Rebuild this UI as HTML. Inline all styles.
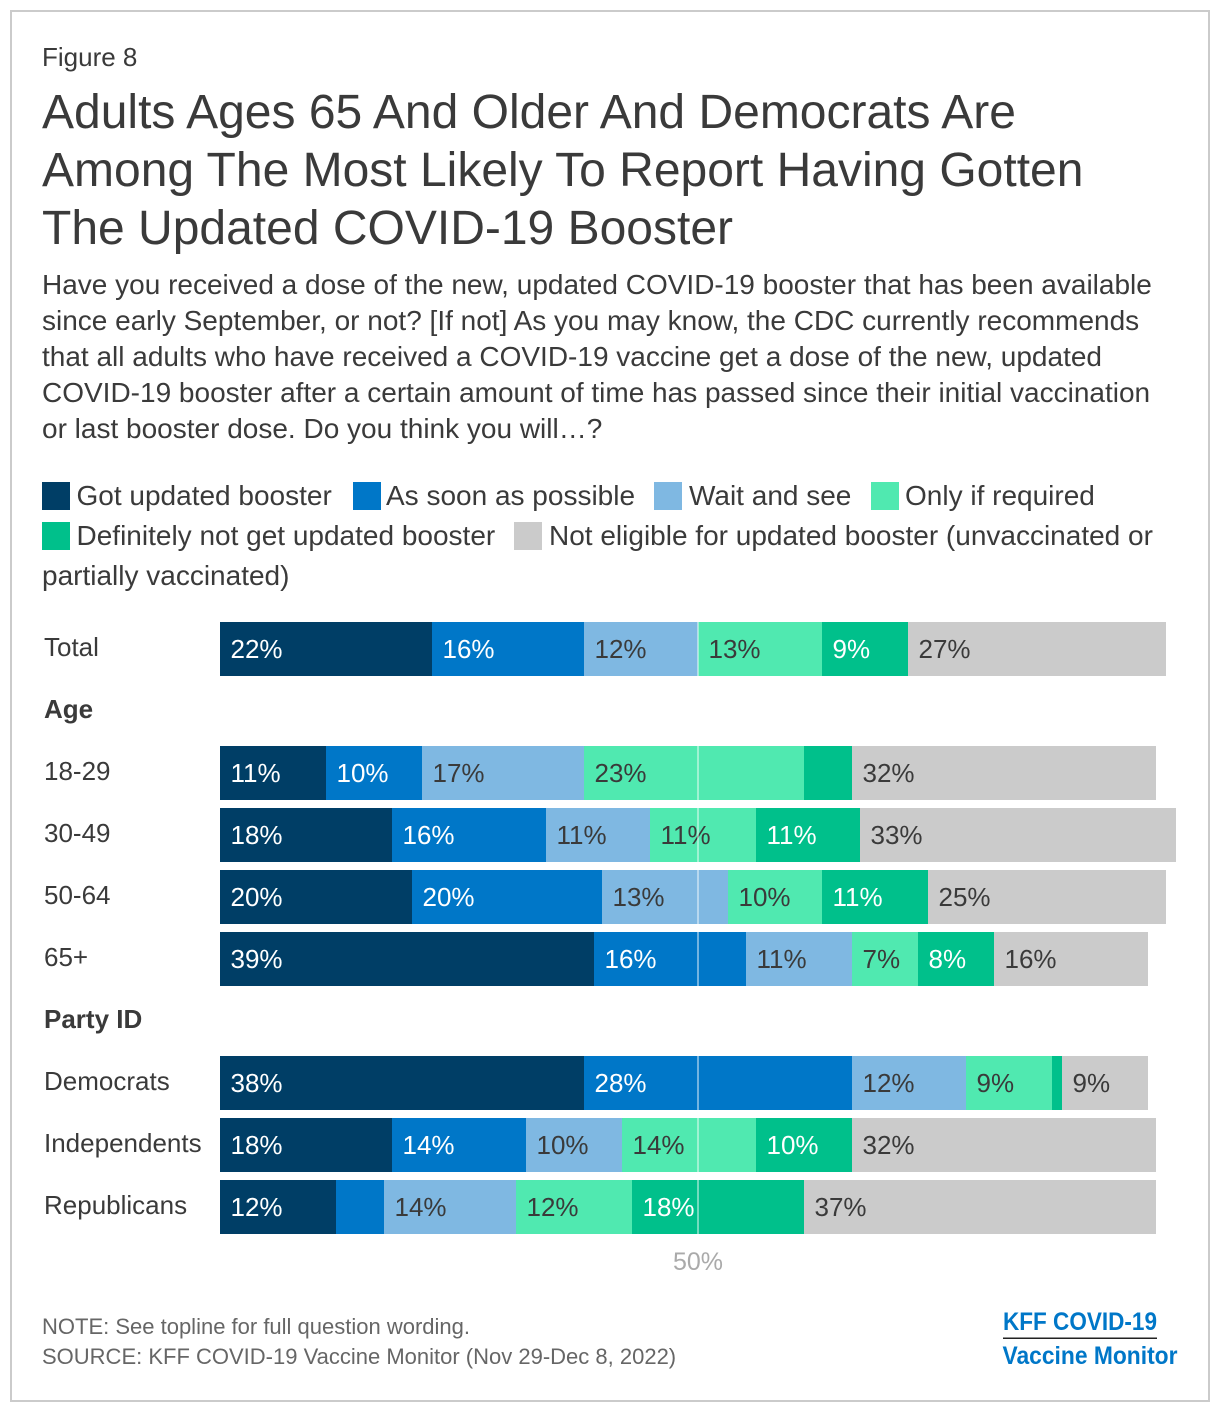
<!DOCTYPE html>
<html lang="en">
<head>
<meta charset="utf-8">
<title>KFF COVID-19 Vaccine Monitor Figure 8</title>
<style>
html,body{margin:0;padding:0;background:#fff;width:1220px;height:1412px;overflow:hidden}
svg{display:block;font-family:"Liberation Sans",Arial,sans-serif}
</style>
</head>
<body>
<svg id="chart" width="1220" height="1412" viewBox="0 0 1220 1412" xmlns="http://www.w3.org/2000/svg">
  <rect x="11" y="11" width="1198" height="1390" fill="#fff" stroke="#cbcbcb" stroke-width="2"/>
  <text x="42" y="66" font-size="26" fill="#3a3a3a">Figure 8</text>
  <g font-size="48" fill="#3a3a3a">
    <text x="42" y="128">Adults Ages 65 And Older And Democrats Are</text>
    <text x="42" y="186">Among The Most Likely To Report Having Gotten</text>
    <text x="42" y="244">The Updated COVID-19 Booster</text>
  </g>
  <g font-size="28" fill="#3a3a3a">
    <text x="42" y="294">Have you received a dose of the new, updated COVID-19 booster that has been available</text>
    <text x="42" y="330">since early September, or not? [If not] As you may know, the CDC currently recommends</text>
    <text x="42" y="366">that all adults who have received a COVID-19 vaccine get a dose of the new, updated</text>
    <text x="42" y="402">COVID-19 booster after a certain amount of time has passed since their initial vaccination</text>
    <text x="42" y="438">or last booster dose. Do you think you will…?</text>
  </g>
  <g id="legend"></g>
  <g id="rows"></g>
  <g id="bars"></g>
  <g id="refline"></g>
  <g font-size="22" fill="#666">
    <text x="42" y="1334">NOTE: See topline for full question wording.</text>
    <text x="42" y="1364">SOURCE: KFF COVID-19 Vaccine Monitor (Nov 29-Dec 8, 2022)</text>
  </g>
  <g fill="#0077c8" font-weight="bold" font-size="25">
    <text x="1003" y="1330" textLength="154" lengthAdjust="spacingAndGlyphs">KFF COVID-19</text>
    <rect x="1003" y="1337.5" width="154" height="1.5" fill="#222"/>
    <text x="1002.5" y="1364" textLength="175" lengthAdjust="spacingAndGlyphs">Vaccine Monitor</text>
  </g>
</svg>
<script>
const seriesNames = ['Got updated booster','As soon as possible','Wait and see','Only if required','Definitely not get updated booster','Not eligible for updated booster (unvaccinated or partially vaccinated)'];
const seriesColors = ['#003e66','#0077c8','#7fb8e2','#50e9b0','#00c08b','#cbcbcb'];
const labelColors = ['#fff','#fff','#3a3a3a','#3a3a3a','#fff','#3a3a3a'];

const categories = ['Total','Age','18-29','30-49','50-64','65+','Party ID','Democrats','Independents','Republicans'];
const gotUpdated   = [22.18,null,11.09,17.99,20.08,39.12,null,38.08,17.99,12.13];
const asSoon       = [15.90,null,10.04,16.11,19.87,15.90,null,28.03,14.02, 5.02];
const waitAndSee   = [11.92,null,16.95,10.88,13.18,11.09,null,11.92,10.04,13.81];
const onlyRequired = [12.97,null,23.01,11.09, 9.83, 6.90,null, 9.00,14.02,12.13];
const definitelyNot= [ 9.00,null, 5.02,10.88,11.09, 7.95,null, 1.05,10.04,17.99];
const notEligible  = [26.99,null,31.80,33.05,24.90,16.11,null, 9.00,31.80,36.82];
const seriesValues = [gotUpdated,asSoon,waitAndSee,onlyRequired,definitelyNot,notEligible];
const referenceValue = 50;
const labelThreshold = 6;

const NS = 'http://www.w3.org/2000/svg';
const plotLeft = 220, pxPerPercent = 9.56, rowTop = 622, rowStep = 62, barHeight = 54;
const xScale = v => plotLeft + v * pxPerPercent;
const yScale = i => rowTop + i * rowStep;

function make(tag, attrs, parent, text) {
  const el = document.createElementNS(NS, tag);
  for (const k in attrs) el.setAttribute(k, attrs[k]);
  if (text !== undefined) el.textContent = text;
  parent.appendChild(el);
  return el;
}

/* legend */
const legendLayout = [[42,482,76.5],[353,482,386],[654,482,689],[871,482,905],[42,522,76.5],[514,522,549]];
const legend = document.getElementById('legend');
seriesNames.forEach((name, s) => {
  const g = make('g', {}, legend);
  
  
  const [lx, ly, tx] = legendLayout[s];
  make('rect', {x: lx, y: ly, width: 28, height: 28, fill: seriesColors[s]}, g);
  const attrs = {x: tx, y: ly + 23, 'font-size': 28, fill: '#3a3a3a'};
  if (s === 5) {
    make('text', attrs, g, 'Not eligible for updated booster (unvaccinated or');
    make('text', {x: 42, y: 585, 'font-size': 28, fill: '#3a3a3a'}, g, 'partially vaccinated)');
  } else {
    make('text', attrs, g, name);
  }
});

/* rows and bars */
const rowsG = document.getElementById('rows');
const barsG = document.getElementById('bars');
categories.forEach((cat, i) => {
  const isHeader = gotUpdated[i] === null;
  const lab = make('text', {
    x: 44, y: yScale(i) + 34, 'font-size': 26, fill: '#3a3a3a',
    'font-weight': isHeader ? 'bold' : 'normal'
  }, rowsG, cat);
  
  
  if (isHeader) return;
  const row = make('g', {}, barsG);
  
  
  let cum = 0;
  seriesValues.forEach((vals, s) => {
    const v = vals[i];
    const x0 = Math.round(xScale(cum)), x1 = Math.round(xScale(cum + v));
    const r = make('rect', {x: x0, y: yScale(i), width: x1 - x0, height: barHeight, fill: seriesColors[s]}, row);
    
    
    if (v >= labelThreshold) {
      const t = make('text', {x: x0 + 10.5, y: yScale(i) + 36, 'font-size': 26, fill: labelColors[s]}, row, Math.round(v) + '%');
      
      
    }
    cum += v;
  });
});

/* 50% reference */
const refG = document.getElementById('refline');
const refX = xScale(referenceValue);
categories.forEach((cat, i) => {
  if (gotUpdated[i] === null) return;
  const tick = make('rect', {x: refX - 1, y: yScale(i), width: 2, height: barHeight, fill: '#fff', 'fill-opacity': 0.45}, refG);
  
  
});
const refLabel = make('text', {x: refX, y: 1270, 'font-size': 25, fill: '#aaa', 'text-anchor': 'middle'}, refG, referenceValue + '%');


</script>
</body>
</html>
